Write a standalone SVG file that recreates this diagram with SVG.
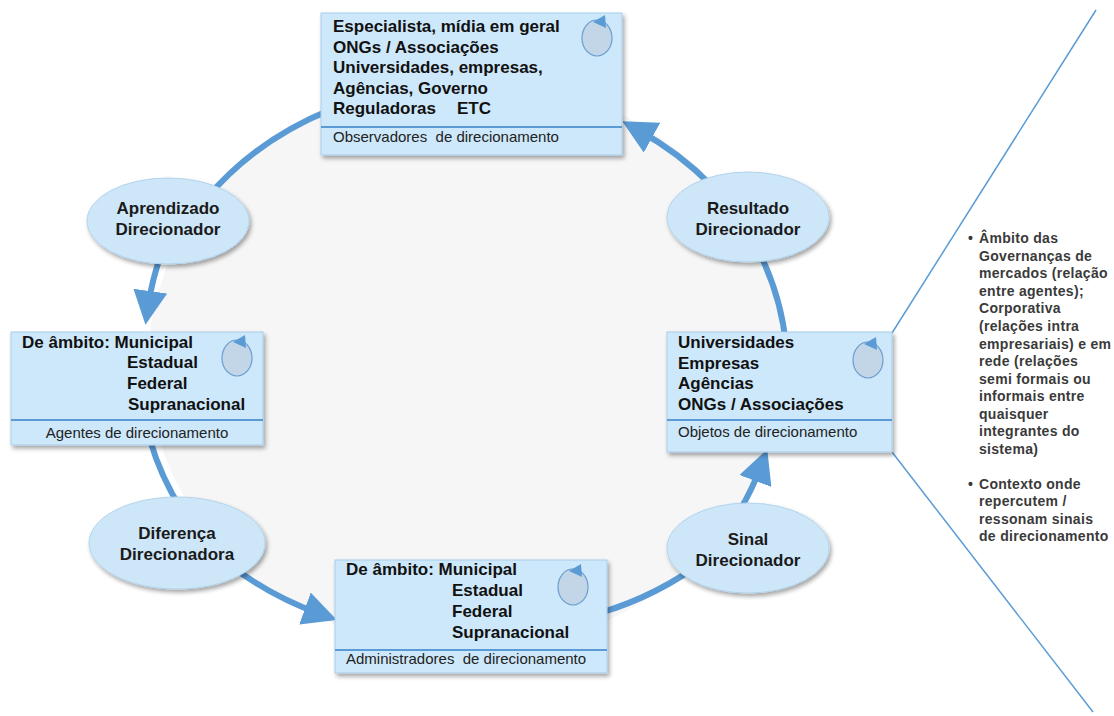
<svg xmlns="http://www.w3.org/2000/svg" width="1114" height="716" viewBox="0 0 1114 716">
  <defs>
    <filter id="shadow" x="-10%" y="-10%" width="125%" height="130%">
      <feDropShadow dx="2" dy="3" stdDeviation="2" flood-color="#000" flood-opacity="0.35"/>
    </filter>
    <marker id="head" markerUnits="userSpaceOnUse" markerWidth="34" markerHeight="34" viewBox="0 0 34 34" refX="16" refY="17" orient="auto">
      <path d="M0,0 L34,17 L0,34 z" fill="#5b9bd5"/>
    </marker>
    <style>
      .box { fill: #cde8fa; stroke: #a9cde9; stroke-width: 1; filter: url(#shadow); }
      .oval { fill: #cde7f9; stroke: #b3d3ec; stroke-width: 1; filter: url(#shadow); }
      .divider { stroke: #5b9bd5; stroke-width: 2; }
      .icon { fill: #c3d6e8; stroke: #6a9fd0; stroke-width: 1.2; }
      .icon-head { fill: #5b9bd5; }
      .main { font-family: "Liberation Sans", Arial, sans-serif; font-size: 17px; font-weight: bold; fill: #111; }
      .label { font-family: "Liberation Sans", Arial, sans-serif; font-size: 15px; fill: #222; }
      .oval-text { font-family: "Liberation Sans", Arial, sans-serif; font-size: 17px; font-weight: bold; fill: #1a1a1a; text-anchor: middle; }
      .note { font-family: "Liberation Sans", Arial, sans-serif; font-size: 14px; font-weight: bold; fill: #3a3a3a; letter-spacing: 0.3px; }
      .arc { fill: none; stroke: #5b9bd5; stroke-width: 6; }
      .ray { fill: none; stroke: #5b9bd5; stroke-width: 1.5; }
    </style>
  </defs>

  <rect width="1114" height="716" fill="#ffffff"/>

  <!-- backdrop of the cycle -->
  <ellipse cx="466" cy="364" rx="318" ry="286" fill="#f6f6f6"/>

  <!-- cycle connectors -->
  <g id="connectors">
    <path class="arc" d="M330,110 A322,290 0 0 0 205,200"/>
    <path class="arc" d="M162,252 A322,290 0 0 0 148,307" marker-end="url(#head)"/>
    <path class="arc" d="M150,440 A322,290 0 0 0 185,515"/>
    <path class="arc" d="M230,565 A322,290 0 0 0 320,614" marker-end="url(#head)"/>
    <path class="arc" d="M600,613 A322,290 0 0 0 705,560"/>
    <path class="arc" d="M740,510 A322,290 0 0 0 761,466" marker-end="url(#head)"/>
    <path class="arc" d="M786,345 A322,290 0 0 0 758,250"/>
    <path class="arc" d="M712,186 A322,290 0 0 0 638,130" marker-end="url(#head)"/>
    <line class="ray" x1="892" y1="333" x2="1096" y2="10"/>
    <line class="ray" x1="892" y1="452" x2="1093" y2="712"/>
  </g>

  <!-- Observadores -->
  <g id="observadores">
    <rect class="box" x="321" y="13" width="301" height="142"/>
    <line class="divider" x1="321" y1="127" x2="622" y2="127"/>
    <ellipse class="icon" cx="597" cy="38" rx="15" ry="18"/>
    <polygon class="icon-head" points="593,22 605,15 606,28"/>
    <text class="main" x="333" y="32">Especialista, mídia em geral</text>
    <text class="main" x="333" y="53">ONGs / Associações</text>
    <text class="main" x="333" y="73">Universidades, empresas,</text>
    <text class="main" x="333" y="94">Agências, Governo</text>
    <text class="main" x="333" y="114">Reguladoras</text>
    <text class="main" x="457" y="114">ETC</text>
    <text class="label" x="333" y="142" xml:space="preserve">Observadores  de direcionamento</text>
  </g>

  <!-- Agentes -->
  <g id="agentes">
    <rect class="box" x="11" y="332" width="252" height="113"/>
    <line class="divider" x1="11" y1="420" x2="263" y2="420"/>
    <ellipse class="icon" cx="237" cy="358" rx="15" ry="18"/>
    <polygon class="icon-head" points="233,342 245,335 246,348"/>
    <text class="main" x="22" y="348">De âmbito: Municipal</text>
    <text class="main" x="127" y="368">Estadual</text>
    <text class="main" x="127" y="389">Federal</text>
    <text class="main" x="128" y="410">Supranacional</text>
    <text class="label" x="137" y="438" text-anchor="middle">Agentes de direcionamento</text>
  </g>

  <!-- Administradores -->
  <g id="administradores">
    <rect class="box" x="335" y="560" width="272" height="113"/>
    <line class="divider" x1="335" y1="650" x2="607" y2="650"/>
    <ellipse class="icon" cx="573" cy="587" rx="15" ry="18"/>
    <polygon class="icon-head" points="569,571 581,564 582,577"/>
    <text class="main" x="346" y="575">De âmbito: Municipal</text>
    <text class="main" x="452" y="596">Estadual</text>
    <text class="main" x="452" y="617">Federal</text>
    <text class="main" x="452" y="638">Supranacional</text>
    <text class="label" x="346" y="664" xml:space="preserve">Administradores  de direcionamento</text>
  </g>

  <!-- Objetos -->
  <g id="objetos">
    <rect class="box" x="667" y="332" width="225" height="120"/>
    <line class="divider" x1="667" y1="420" x2="892" y2="420"/>
    <ellipse class="icon" cx="868" cy="360" rx="15" ry="18"/>
    <polygon class="icon-head" points="864,344 876,337 877,350"/>
    <text class="main" x="678" y="348">Universidades</text>
    <text class="main" x="678" y="369">Empresas</text>
    <text class="main" x="678" y="389">Agências</text>
    <text class="main" x="678" y="410">ONGs / Associações</text>
    <text class="label" x="678" y="437">Objetos de direcionamento</text>
  </g>

  <!-- cycle stages -->
  <g id="aprendizado">
    <ellipse class="oval" cx="168" cy="221" rx="81" ry="43"/>
    <text class="oval-text" x="168" y="214">Aprendizado</text>
    <text class="oval-text" x="168" y="235">Direcionador</text>
  </g>
  <g id="resultado">
    <ellipse class="oval" cx="748" cy="217" rx="81" ry="45"/>
    <text class="oval-text" x="748" y="214">Resultado</text>
    <text class="oval-text" x="748" y="235">Direcionador</text>
  </g>
  <g id="diferenca">
    <ellipse class="oval" cx="177" cy="543" rx="88" ry="46"/>
    <text class="oval-text" x="177" y="539">Diferença</text>
    <text class="oval-text" x="177" y="560">Direcionadora</text>
  </g>
  <g id="sinal">
    <ellipse class="oval" cx="748" cy="548" rx="81" ry="45"/>
    <text class="oval-text" x="748" y="545">Sinal</text>
    <text class="oval-text" x="748" y="566">Direcionador</text>
  </g>

  <!-- side notes -->
  <g id="notas">
    <text class="note" x="968" y="243" font-size="11">•</text>
    <text class="note" x="979" y="243">Âmbito das</text>
    <text class="note" x="979" y="261">Governanças de</text>
    <text class="note" x="979" y="278">mercados (relação</text>
    <text class="note" x="979" y="296">entre agentes);</text>
    <text class="note" x="979" y="313">Corporativa</text>
    <text class="note" x="979" y="331">(relações intra</text>
    <text class="note" x="979" y="349">empresariais) e em</text>
    <text class="note" x="979" y="366">rede (relações</text>
    <text class="note" x="979" y="384">semi formais ou</text>
    <text class="note" x="979" y="401">informais entre</text>
    <text class="note" x="979" y="419">quaisquer</text>
    <text class="note" x="979" y="436">integrantes do</text>
    <text class="note" x="979" y="454">sistema)</text>
    <text class="note" x="968" y="489" font-size="11">•</text>
    <text class="note" x="979" y="489">Contexto onde</text>
    <text class="note" x="979" y="506">repercutem /</text>
    <text class="note" x="979" y="524">ressonam sinais</text>
    <text class="note" x="979" y="541">de direcionamento</text>
  </g>
</svg>
